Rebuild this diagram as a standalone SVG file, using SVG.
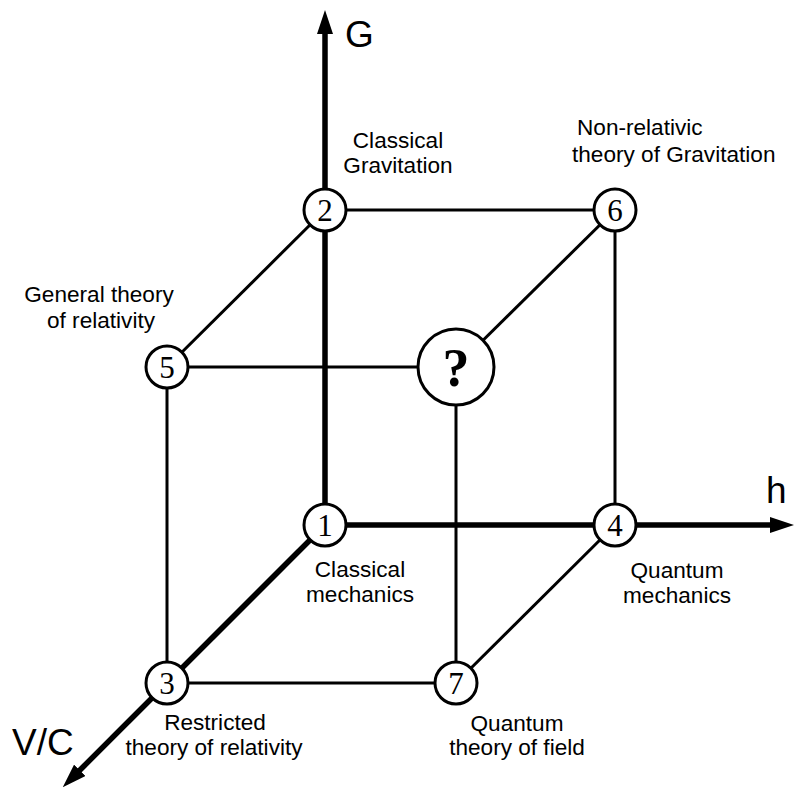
<svg xmlns="http://www.w3.org/2000/svg" width="795" height="789" viewBox="0 0 795 789">
  <style>
    .edge { stroke: #000; stroke-width: 3; fill: none; }
    .axis { stroke: #000; stroke-width: 5.5; fill: none; marker-end: url(#arrow); }
    .node circle { fill: #fff; stroke: #000; stroke-width: 3; }
    .num { font-family: "Liberation Serif", "Times New Roman", serif; font-size: 31px; text-anchor: middle; fill: #000; }
    .q { font-family: "Liberation Serif", "Times New Roman", serif; font-size: 54px; font-weight: bold; text-anchor: middle; fill: #000; }
    .lbl { font-family: "Liberation Sans", Arial, sans-serif; font-size: 22.6px; text-anchor: middle; fill: #000; }
    .lbl-start { font-family: "Liberation Sans", Arial, sans-serif; font-size: 22.6px; text-anchor: start; fill: #000; }
    .axlbl { font-family: "Liberation Sans", Arial, sans-serif; font-size: 37px; fill: #000; }
  </style>
  <defs>
    <marker id="arrow" viewBox="0 0 24 16" refX="1" refY="8" markerWidth="24" markerHeight="16" markerUnits="userSpaceOnUse" orient="auto">
      <path d="M0,0 L24,8 L0,16 Z" fill="#000"/>
    </marker>
  </defs>
  <rect width="795" height="789" fill="#fff"/>

  <g id="connectors">
    <!-- thin cube edges -->
    <line class="edge" x1="325" y1="210" x2="615" y2="210"/>
    <line class="edge" x1="325" y1="210" x2="167" y2="367"/>
    <line class="edge" x1="615" y1="210" x2="456" y2="367"/>
    <line class="edge" x1="167" y1="367" x2="456" y2="367"/>
    <line class="edge" x1="167" y1="367" x2="167" y2="683"/>
    <line class="edge" x1="615" y1="210" x2="615" y2="525"/>
    <line class="edge" x1="456" y1="367" x2="456" y2="683"/>
    <line class="edge" x1="167" y1="683" x2="456" y2="683"/>
    <line class="edge" x1="615" y1="525" x2="456" y2="683"/>
    <!-- thick axes -->
    <line class="axis" x1="325" y1="525" x2="325" y2="33"/>
    <line class="axis" x1="325" y1="525" x2="771" y2="525"/>
    <line class="axis" x1="325" y1="525" x2="79" y2="771"/>
  </g>

  <g id="axis-labels">
    <text class="axlbl" x="345" y="47" font-size="31">G</text>
    <text class="axlbl" x="766" y="503">h</text>
    <text class="axlbl" x="12" y="755">V/C</text>
  </g>

  <g id="node1" class="node">
    <circle cx="325" cy="525" r="21"/>
    <text class="num" x="325" y="536">1</text>
    <text class="lbl" x="360" y="577">Classical</text>
    <text class="lbl" x="360" y="602">mechanics</text>
  </g>
  <g id="node2" class="node">
    <circle cx="325" cy="210" r="21"/>
    <text class="num" x="325" y="221">2</text>
    <text class="lbl" x="398" y="148">Classical</text>
    <text class="lbl" x="398" y="173">Gravitation</text>
  </g>
  <g id="node3" class="node">
    <circle cx="167" cy="683" r="21"/>
    <text class="num" x="167" y="694">3</text>
    <text class="lbl" x="215" y="730">Restricted</text>
    <text class="lbl" x="214" y="755">theory of relativity</text>
  </g>
  <g id="node4" class="node">
    <circle cx="615" cy="525" r="21"/>
    <text class="num" x="615" y="536">4</text>
    <text class="lbl" x="677" y="578">Quantum</text>
    <text class="lbl" x="677" y="603">mechanics</text>
  </g>
  <g id="node5" class="node">
    <circle cx="167" cy="367" r="21"/>
    <text class="num" x="167" y="378">5</text>
    <text class="lbl" x="99" y="302">General theory</text>
    <text class="lbl" x="101" y="328">of relativity</text>
  </g>
  <g id="node6" class="node">
    <circle cx="615" cy="210" r="21"/>
    <text class="num" x="615" y="221">6</text>
    <text class="lbl-start" x="577" y="135">Non-relativic</text>
    <text class="lbl-start" x="572" y="162">theory of Gravitation</text>
  </g>
  <g id="node-q" class="node">
    <circle cx="456" cy="367" r="38"/>
    <text class="q" x="456" y="386">?</text>
  </g>
  <g id="node7" class="node">
    <circle cx="456" cy="683" r="21"/>
    <text class="num" x="456" y="694">7</text>
    <text class="lbl" x="517" y="731">Quantum</text>
    <text class="lbl" x="517" y="755">theory of field</text>
  </g>
</svg>
